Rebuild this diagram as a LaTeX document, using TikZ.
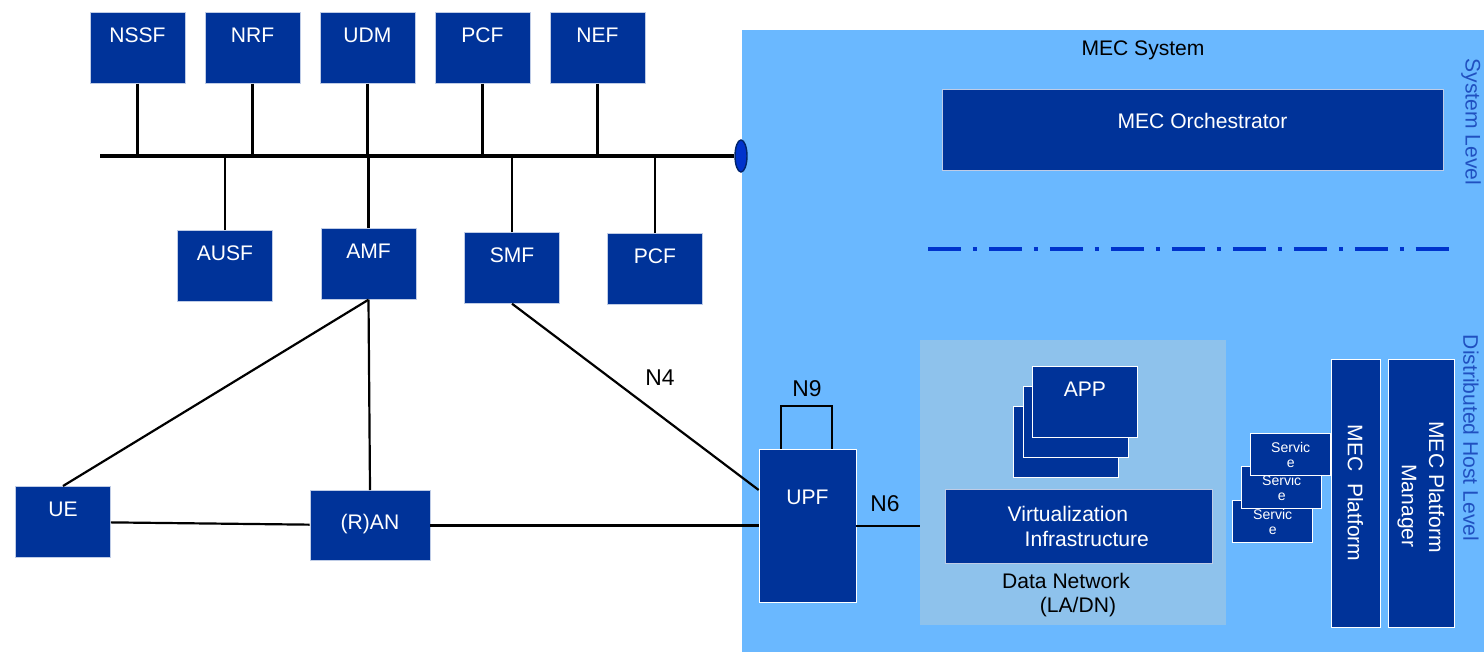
\documentclass[tikz,border=0pt]{standalone}
\usepackage{fontspec}
\setmainfont{Liberation Sans}
\usetikzlibrary{shapes.geometric}
\definecolor{nfblue}{RGB}{0,51,153}
\definecolor{mecblue}{RGB}{106,184,255}
\definecolor{dnblue}{RGB}{142,194,236}
\definecolor{linkblue}{RGB}{0,51,204}
\definecolor{lvlblue}{RGB}{32,80,192}
\begin{document}
\begin{tikzpicture}
  [x=0.02cm,y=-0.02cm,font=\fontsize{12}{14}\selectfont,
   box/.style={fill=nfblue,draw=white!75!nfblue,text=white,inner sep=0pt},
   nf/.style={box,anchor=north,minimum width=1.9cm,text height=0.6cm,text depth=0.82cm},
   appbox/.style={nf,anchor=north west,minimum width=2.1cm,draw=white},
   svc/.style={box,anchor=north west,draw=white,line width=0.8pt,minimum width=1.6cm,
     minimum height=0.84cm,align=center,font=\fontsize{8}{8.5}\selectfont},
   link/.style={line width=1.25pt},
   lbl/.style={font=\fontsize{13}{15}\selectfont},
   lvl/.style={rotate=-90,text=lvlblue}]
  \useasboundingbox (0,0) rectangle (1484,652);
  \fill[mecblue] (742,30) rectangle (1484,652);

  \node (nssf) at (137.5,12) [nf] {NSSF};
  \node (nrf) at (252.5,12) [nf] {NRF};
  \node (udm) at (367.5,12) [nf] {UDM};
  \node (pcfa) at (482.5,12) [nf] {PCF};
  \node (nef) at (597.5,12) [nf] {NEF};

  \node (ausf) at (225,230) [nf] {AUSF};
  \node (amf) at (368.5,228) [nf] {AMF};
  \node (smf) at (512,232) [nf] {SMF};
  \node (pcfb) at (655,233) [nf] {PCF};

  \node (ue) at (63,486) [nf] {UE};
  \node (ran) at (370,490) [nf,minimum width=2.4cm,text height=0.78cm,text depth=0.62cm] {(R)AN};
  \node (upf) at (807.5,449) [nf,draw=white,minimum width=1.94cm,text height=1.1cm,text depth=1.96cm] {UPF};

  \coordinate (busw) at (100,156);
  \node (busend) at (741,156) [ellipse,fill=linkblue,draw=nfblue!70!black,line width=0.8pt,
    minimum width=0.24cm,minimum height=0.64cm,inner sep=0pt] {};
  \draw [line width=1.8pt] (busw) -- (busend);
  \foreach \n in {nssf,nrf,udm,pcfa,nef,ausf,amf,smf,pcfb}
    \draw [link] (\n) -- (\n |- busend);

  \draw [link] (amf.south) -- (ue.north);
  \draw [link] (amf.south) -- (ran.north);
  \draw [link] (ue) -- (ran);
  \draw [line width=1.6pt] (ran) -- (ran -| upf.west);
  \draw [link] (smf.south) -- ([yshift=-0.82cm]upf.north west);
  \node (n4) at (660,378) [lbl] {N4};
  \draw [link] ([xshift=-0.53cm]upf.north) -- ++(0,-43) -| ([xshift=0.49cm]upf.north);
  \node (n9) at (807,389) [lbl] {N9};

  \node (mecsys) at (1143,50) {MEC System};
  \node (meco) at (1192.5,89) [nf,minimum width=10.02cm,text height=0.78cm,text depth=0.84cm]
    {\hspace*{0.4cm}MEC Orchestrator};
  \node (syslvl) at (1471,122) [lvl] {System Level};
  \draw [linkblue,line width=2.3pt,dash pattern=on 18.8pt off 6.8pt on 2.3pt off 6.8pt]
    (928,249) -- (1456,249);

  \node (dn) at (920,340) [anchor=north west,fill=dnblue,minimum width=6.12cm,
    minimum height=5.7cm,inner sep=0pt] {};
  \draw [link] (upf) -- (upf -| dn.west);
  \node (n6) at (885,504) [lbl] {N6};
  \node (app3) at (1013,406) [appbox] {};
  \node (app2) at (1023,386) [appbox] {};
  \node (app1) at (1032,366) [appbox] {APP};
  \node (virt) at (945,489) [box,anchor=north west,minimum width=5.34cm,minimum height=1.48cm,
    align=center] {Virtualization\hspace*{0.44cm}\\\hspace*{0.32cm}Infrastructure};
  \node (dnlbl) at (1066,595) [align=center] {Data Network\\\hspace*{0.48cm}(LA/DN)};

  \node (svc3) at (1232,500) [svc] {Servic\\e};
  \node (svc2) at (1241,466) [svc] {Servic\\e};
  \node (svc1) at (1250,433) [svc] {Servic\\e};
  \node (mecp) at (1355.5,493) [box,draw=white,rotate=-90,minimum width=5.36cm,
    minimum height=0.98cm] {MEC\ \ Platform};
  \node (mecpm) at (1421,493) [box,draw=white,rotate=-90,minimum width=5.36cm,
    minimum height=1.32cm,align=center,font=\fontsize{12}{15.5}\selectfont]
    {MEC Platform\hspace*{0.24cm}\\\hspace*{0.52cm}Manager};
  \node (hostlvl) at (1471,438) [lvl] {Distributed Host Level};
\end{tikzpicture}
\end{document}
